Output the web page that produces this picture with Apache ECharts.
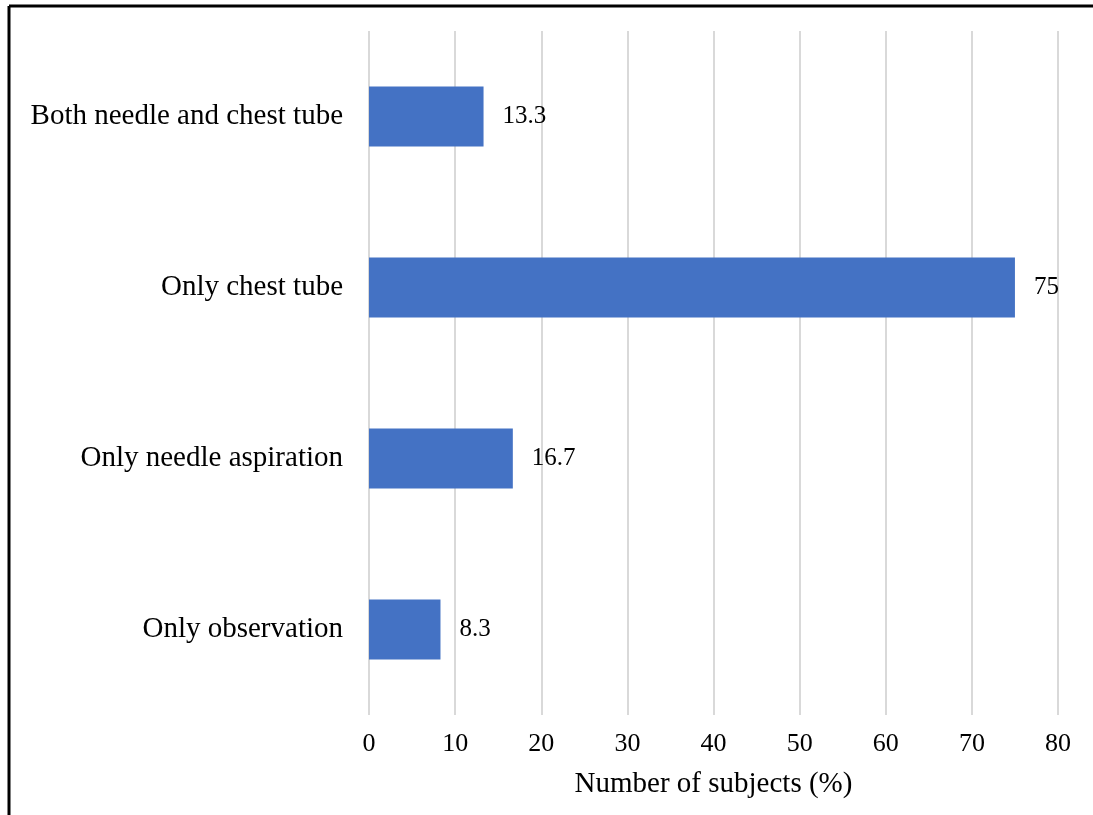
<!DOCTYPE html>
<html>
<head>
<meta charset="utf-8">
<script src="https://cdn.jsdelivr.net/npm/echarts@6/dist/echarts.min.js"></script>
<style>
html,body{margin:0;padding:0;background:#fff;}
#c{width:1093px;height:815px;}
</style>
</head>
<body>
<div id="c"></div>
<script>
const categories = ["Only observation", "Only needle aspiration", "Only chest tube", "Both needle and chest tube"];
const values = [8.3, 16.7, 75, 13.3];
const valueLabels = ["8.3", "16.7", "75", "13.3"];
const xTicks = [0, 10, 20, 30, 40, 50, 60, 70, 80];
const xAxisName = "Number of subjects (%)";

const FONT = '"Liberation Serif", "Times New Roman", serif';
const chart = echarts.init(document.getElementById('c'), null, {renderer: 'canvas'});
chart.setOption({
  backgroundColor: '#ffffff',
  animation: false,
  grid: {left: 369, right: 35, top: 31, bottom: 100, containLabel: false},
  xAxis: {
    type: 'value',
    min: xTicks[0],
    max: xTicks[xTicks.length - 1],
    interval: 10,
    name: xAxisName,
    nameLocation: 'middle',
    nameGap: 55,
    nameTextStyle: {fontFamily: FONT, fontSize: 29, color: '#000'},
    axisLine: {show: false},
    axisTick: {show: false},
    axisLabel: {fontFamily: FONT, fontSize: 26, color: '#000', margin: 16},
    splitLine: {show: true, lineStyle: {color: '#D9D9D9', width: 2}}
  },
  yAxis: {
    type: 'category',
    data: categories,
    axisLine: {show: false},
    axisTick: {show: false},
    axisLabel: {fontFamily: FONT, fontSize: 29, color: '#000', margin: 26},
    splitLine: {show: false}
  },
  series: [{
    type: 'bar',
    data: values,
    barCategoryGap: '65%',
    itemStyle: {color: '#4472C4'},
    label: {
      show: true,
      position: 'right',
      distance: 19,
      fontFamily: FONT,
      fontSize: 25,
      color: '#000',
      formatter: p => valueLabels[p.dataIndex]
    }
  }],
  graphic: [
    {type: 'line', shape: {x1: 9, y1: 6, x2: 1093, y2: 6}, style: {stroke: '#000', lineWidth: 3}, silent: true},
    {type: 'line', shape: {x1: 9, y1: 6, x2: 9, y2: 815}, style: {stroke: '#000', lineWidth: 3}, silent: true}
  ]
});
</script>
</body>
</html>
